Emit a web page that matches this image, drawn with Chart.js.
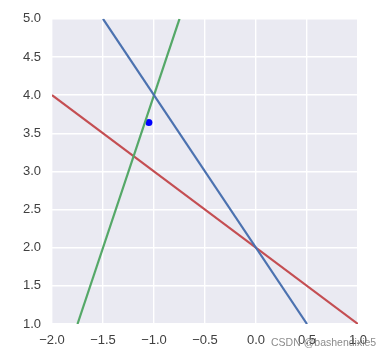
<!DOCTYPE html>
<html><head><meta charset="utf-8">
<script src="https://cdn.jsdelivr.net/npm/chart.js@4/dist/chart.umd.min.js"></script>
<style>
html,body{margin:0;padding:0;background:#fff;overflow:hidden;}
#wrap{position:relative;width:377px;height:356px;}
#wm{position:absolute;left:271px;top:336px;font:10.5px "Liberation Sans",Arial,sans-serif;color:rgba(110,110,110,0.8);white-space:nowrap;}
</style></head>
<body>
<div id="wrap"><canvas id="c" width="377" height="356"></canvas><div id="wm">CSDN @bashendixie5</div></div>
<script>
const blueX = [-1.5, 0.5];
const blueY = [5.0, 1.0];
const greenX = [-1.75, -0.75];
const greenY = [1.0, 5.0];
const redX = [-2.0, 1.0];
const redY = [4.0, 1.0];
const pointX = [-1.05];
const pointY = [3.64];
const xTicks = [-2.0, -1.5, -1.0, -0.5, 0.0, 0.5, 1.0];
const yTicks = [1.0, 1.5, 2.0, 2.5, 3.0, 3.5, 4.0, 4.5, 5.0];

const pts = (xs, ys) => xs.map((x, i) => ({x: x, y: ys[i]}));
const fmt = v => (v < 0 ? '\u2212' : '') + Math.abs(v).toFixed(1);

const bgPlugin = {
  id: 'bg',
  beforeDraw(chart) {
    const a = chart.chartArea, ctx = chart.ctx;
    ctx.save(); ctx.fillStyle = '#EAEAF2';
    ctx.fillRect(a.left, a.top, a.right - a.left, a.bottom - a.top);
    ctx.restore();
  }
};

new Chart(document.getElementById('c'), {
  type: 'scatter',
  data: {
    datasets: [
      {data: pts(blueX, blueY), showLine: true, borderColor: '#4C72B0', borderWidth: 2.2, pointRadius: 0},
      {data: pts(greenX, greenY), showLine: true, borderColor: '#55A868', borderWidth: 2.2, pointRadius: 0},
      {data: pts(redX, redY), showLine: true, borderColor: '#C44E52', borderWidth: 2.2, pointRadius: 0},
      {data: pts(pointX, pointY), showLine: false, backgroundColor: '#0000FF', borderColor: '#0000FF', pointRadius: 3.5, borderWidth: 0}
    ]
  },
  options: {
    responsive: false,
    animation: false,
    layout: {padding: {top: 16, right: 19, left: 0, bottom: 0}},
    plugins: {legend: {display: false}, tooltip: {enabled: false}},
    scales: {
      x: {
        type: 'linear', min: -2, max: 1,
        afterBuildTicks: ax => { ax.ticks = xTicks.map(v => ({value: v})); },
        afterFit: ax => { ax.height = 32; },
        grid: {color: '#FFFFFF', lineWidth: 1.4, drawTicks: false},
        border: {display: false},
        ticks: {padding: 9, color: '#404040', font: {family: 'Liberation Sans', size: 13}, callback: v => fmt(v), maxRotation: 0}
      },
      y: {
        type: 'linear', min: 1, max: 5,
        afterBuildTicks: ax => { ax.ticks = yTicks.map(v => ({value: v})); },
        afterFit: ax => { ax.width = 52; },
        grid: {color: '#FFFFFF', lineWidth: 1.4, drawTicks: false},
        border: {display: false},
        ticks: {padding: 11, color: '#404040', font: {family: 'Liberation Sans', size: 13}, callback: v => fmt(v)}
      }
    }
  },
  plugins: [bgPlugin]
});
</script>
</body></html>
